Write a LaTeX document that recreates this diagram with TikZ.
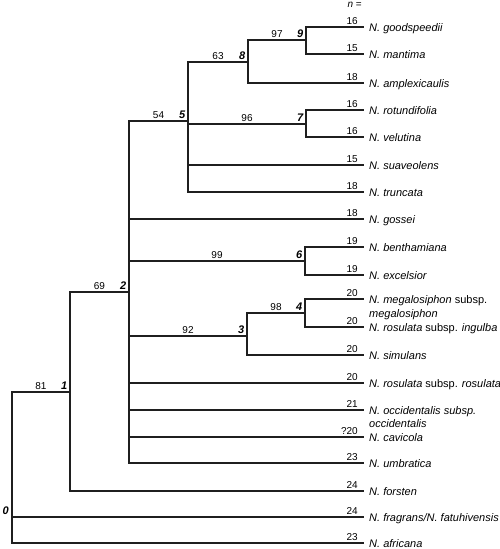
\documentclass[tikz,border=0pt]{standalone}
\usepackage{fontspec}
\setmainfont{Liberation Sans}
\usetikzlibrary{calc}
\begin{document}
\begin{tikzpicture}[x=1pt,y=-1pt,
  br/.style={draw=black!88, line width=1.1pt},
  sp/.style={anchor=base west, font=\fontsize{11}{13}\selectfont, inner sep=0pt, xshift=5pt, yshift=-4pt},
  cn/.style={anchor=south east, font=\fontsize{10}{12}\selectfont, inner sep=0pt, xshift=-6pt, yshift=2pt},
  bs/.style={anchor=south, font=\fontsize{10}{12}\selectfont, inner sep=0pt, yshift=2pt},
  nn/.style={anchor=south east, font=\fontsize{11}{13}\selectfont\bfseries\itshape, inner sep=0pt, xshift=-2.5pt, yshift=2.5pt}]
\useasboundingbox (0,0) rectangle (500,549);
% internal nodes
\coordinate (n0) at (12,517);
\coordinate (n1) at (70,392);
\coordinate (n2) at (129,292);
\coordinate (n5) at (188,121);
\coordinate (n8) at (248,62);
\coordinate (n9) at (306,40);
\coordinate (n7) at (306,124);
\coordinate (n6) at (305,261);
\coordinate (n3) at (247,336);
\coordinate (n4) at (305,313);
% leaf tips
\coordinate (goodspeedii) at (364,27);
\coordinate (mantima) at (364,54);
\coordinate (amplexicaulis) at (364,83);
\coordinate (rotundifolia) at (364,110);
\coordinate (velutina) at (364,137);
\coordinate (suaveolens) at (364,165);
\coordinate (truncata) at (364,192);
\coordinate (gossei) at (364,219);
\coordinate (benthamiana) at (364,247);
\coordinate (excelsior) at (364,275);
\coordinate (megalosiphon) at (364,299);
\coordinate (ingulba) at (364,327);
\coordinate (simulans) at (364,355);
\coordinate (rosulata) at (364,383);
\coordinate (occidentalis) at (364,410);
\coordinate (cavicola) at (364,437);
\coordinate (umbratica) at (364,463);
\coordinate (forsteri) at (364,491);
\coordinate (fragrans) at (364,517);
\coordinate (africana) at (364,543);
% branches
\draw[br] (n0) |- (n1) (n0) |- (fragrans) (n0) |- (africana);
\draw[br] (n1) |- (n2) (n1) |- (forsteri);
\draw[br] (n2) |- (n5) (n2) |- (gossei) (n2) |- (n6) (n2) |- (n3)
  (n2) |- (rosulata) (n2) |- (occidentalis) (n2) |- (cavicola) (n2) |- (umbratica);
\draw[br] (n5) |- (n8) (n5) |- (n7) (n5) |- (suaveolens) (n5) |- (truncata);
\draw[br] (n8) |- (n9) (n8) |- (amplexicaulis);
\draw[br] (n9) |- (goodspeedii) (n9) |- (mantima);
\draw[br] (n7) |- (rotundifolia) (n7) |- (velutina);
\draw[br] (n6) |- (benthamiana) (n6) |- (excelsior);
\draw[br] (n3) |- (n4) (n3) |- (simulans);
\draw[br] (n4) |- (megalosiphon) (n4) |- (ingulba);
% node numbers
\node[nn] (l0) at ([xshift=-0.5pt]n0) {0};
\node[nn] (l1) at (n1) {1};
\node[nn] (l2) at (n2) {2};
\node[nn] (l3) at (n3) {3};
\node[nn] (l4) at (n4) {4};
\node[nn] (l5) at (n5) {5};
\node[nn] (l6) at (n6) {6};
\node[nn] (l7) at (n7) {7};
\node[nn] (l8) at (n8) {8};
\node[nn] (l9) at (n9) {9};
% bootstrap values
\node[bs] (b1) at ($(n0|-n1)!0.5!(n1)$) {81};
\node[bs] (b2) at ($(n1|-n2)!0.5!(n2)$) {69};
\node[bs] (b5) at ($(n2|-n5)!0.5!(n5)$) {54};
\node[bs] (b8) at ($(n5|-n8)!0.5!(n8)$) {63};
\node[bs] (b9) at ($(n8|-n9)!0.5!(n9)$) {97};
\node[bs] (b7) at ($(n5|-n7)!0.5!(n7)$) {96};
\node[bs] (b6) at ($(n2|-n6)!0.5!(n6)$) {99};
\node[bs] (b3) at ($(n2|-n3)!0.5!(n3)$) {92};
\node[bs] (b4) at ($(n3|-n4)!0.5!(n4)$) {98};
% header
\node[anchor=east, font=\fontsize{10}{12}\selectfont, inner sep=0pt] (nhead) at (362,5) {\textit{n} =};
% chromosome numbers
\node[cn] (c1) at (goodspeedii) {16};
\node[cn] (c2) at (mantima) {15};
\node[cn] (c3) at (amplexicaulis) {18};
\node[cn] (c4) at (rotundifolia) {16};
\node[cn] (c5) at (velutina) {16};
\node[cn] (c6) at (suaveolens) {15};
\node[cn] (c7) at (truncata) {18};
\node[cn] (c8) at (gossei) {18};
\node[cn] (c9) at (benthamiana) {19};
\node[cn] (c10) at (excelsior) {19};
\node[cn] (c11) at (megalosiphon) {20};
\node[cn] (c12) at (ingulba) {20};
\node[cn] (c13) at (simulans) {20};
\node[cn] (c14) at (rosulata) {20};
\node[cn] (c15) at (occidentalis) {21};
\node[cn] (c16) at (cavicola) {?20};
\node[cn] (c17) at (umbratica) {23};
\node[cn] (c18) at (forsteri) {24};
\node[cn] (c19) at (fragrans) {24};
\node[cn] (c20) at (africana) {23};
% species names
\node[sp] (s1) at (goodspeedii) {\textit{N. goodspeedii}};
\node[sp] (s2) at (mantima) {\textit{N. mantima}};
\node[sp] (s3) at (amplexicaulis) {\textit{N. amplexicaulis}};
\node[sp] (s4) at (rotundifolia) {\textit{N. rotundifolia}};
\node[sp] (s5) at (velutina) {\textit{N. velutina}};
\node[sp] (s6) at (suaveolens) {\textit{N. suaveolens}};
\node[sp] (s7) at (truncata) {\textit{N. truncata}};
\node[sp] (s8) at (gossei) {\textit{N. gossei}};
\node[sp] (s9) at (benthamiana) {\textit{N. benthamiana}};
\node[sp] (s10) at (excelsior) {\textit{N. excelsior}};
\node[sp] (s11) at (megalosiphon) {\textit{N. megalosiphon} subsp.};
\node[sp] (s11b) at ([yshift=-14pt]megalosiphon) {\textit{megalosiphon}};
\node[sp] (s12) at (ingulba) {\textit{N. rosulata} subsp. \textit{ingulba}};
\node[sp] (s13) at (simulans) {\textit{N. simulans}};
\node[sp] (s14) at (rosulata) {\textit{N. rosulata} subsp. \textit{rosulata}};
\node[sp] (s15) at (occidentalis) {\textit{N. occidentalis subsp.}};
\node[sp] (s15b) at ([yshift=-13pt]occidentalis) {\textit{occidentalis}};
\node[sp] (s16) at (cavicola) {\textit{N. cavicola}};
\node[sp] (s17) at (umbratica) {\textit{N. umbratica}};
\node[sp] (s18) at (forsteri) {\textit{N. forsten}};
\node[sp] (s19) at (fragrans) {\textit{N. fragrans/N. fatuhivensis}};
\node[sp] (s20) at (africana) {\textit{N. africana}};
\end{tikzpicture}
\end{document}
